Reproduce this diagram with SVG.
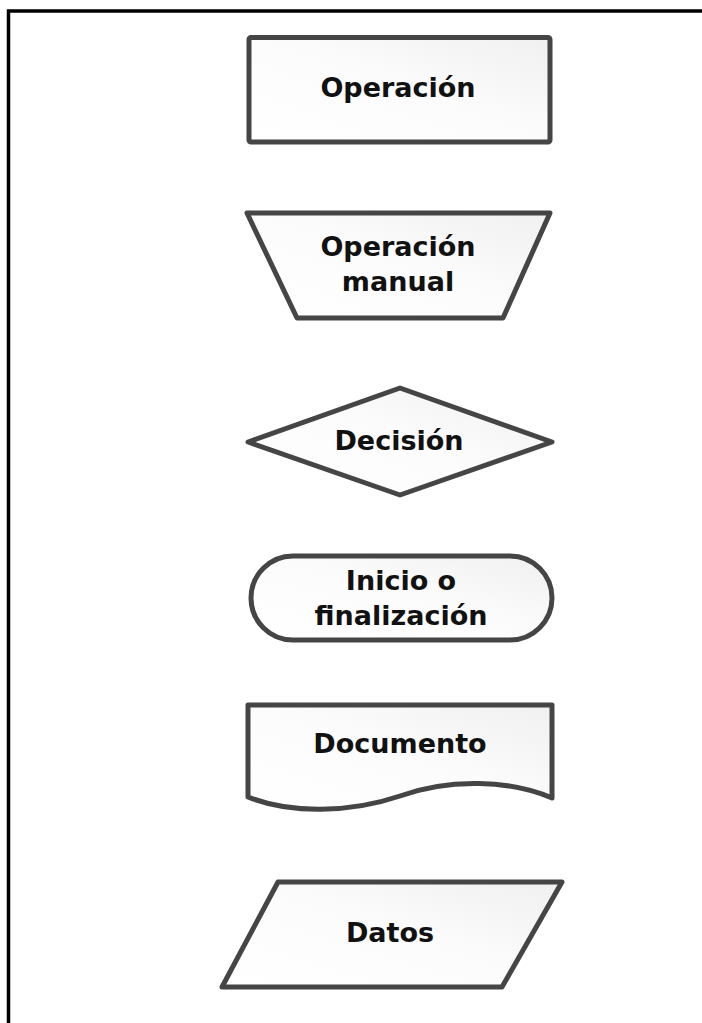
<svg xmlns="http://www.w3.org/2000/svg" width="702" height="1023" viewBox="0 0 702 1023">
  <defs>
    <linearGradient id="fill" x1="1" y1="0" x2="0" y2="1">
      <stop offset="0" stop-color="#f0f0f0"/>
      <stop offset="0.5" stop-color="#fcfcfc"/>
      <stop offset="1" stop-color="#ffffff"/>
    </linearGradient>
    <style>
      .shape { fill: url(#fill); stroke: #454545; stroke-width: 5; stroke-linejoin: round; }
      .label { font-family: "DejaVu Sans", Verdana, sans-serif; font-weight: bold; font-size: 27px; fill: #111; text-anchor: middle; }
    </style>
  </defs>

  <rect width="702" height="1023" fill="#ffffff"/>
  <!-- outer frame, running past the right and bottom edges -->
  <rect x="8.5" y="11" width="720" height="1040" fill="none" stroke="#000" stroke-width="3.5"/>

  <g id="operacion">
    <rect class="shape" x="249" y="37.5" width="301" height="104.5" rx="2"/>
    <text class="label" x="398" y="97">Operación</text>
  </g>

  <g id="operacion-manual">
    <polygon class="shape" points="247,213 550,213 503,318 297,318"/>
    <text class="label" x="398" y="256">Operación</text>
    <text class="label" x="398" y="291">manual</text>
  </g>

  <g id="decision">
    <polygon class="shape" points="248,442 400,388 552,442 400,495"/>
    <text class="label" x="399" y="450">Decisión</text>
  </g>

  <g id="inicio-finalizacion">
    <rect class="shape" x="251" y="556" width="301" height="84" rx="42" ry="42"/>
    <text class="label" x="401" y="590">Inicio o</text>
    <text class="label" x="401" y="625">finalización</text>
  </g>

  <g id="documento">
    <path class="shape" d="M248,705 H552 V798 C510,780 450,778 400,796 C350,813 290,814 248,797 Z"/>
    <text class="label" x="400" y="753">Documento</text>
  </g>

  <g id="datos">
    <polygon class="shape" points="278,882 562,882 502,987 222,987"/>
    <text class="label" x="390" y="942">Datos</text>
  </g>

  <g id="connectors"/>
</svg>
